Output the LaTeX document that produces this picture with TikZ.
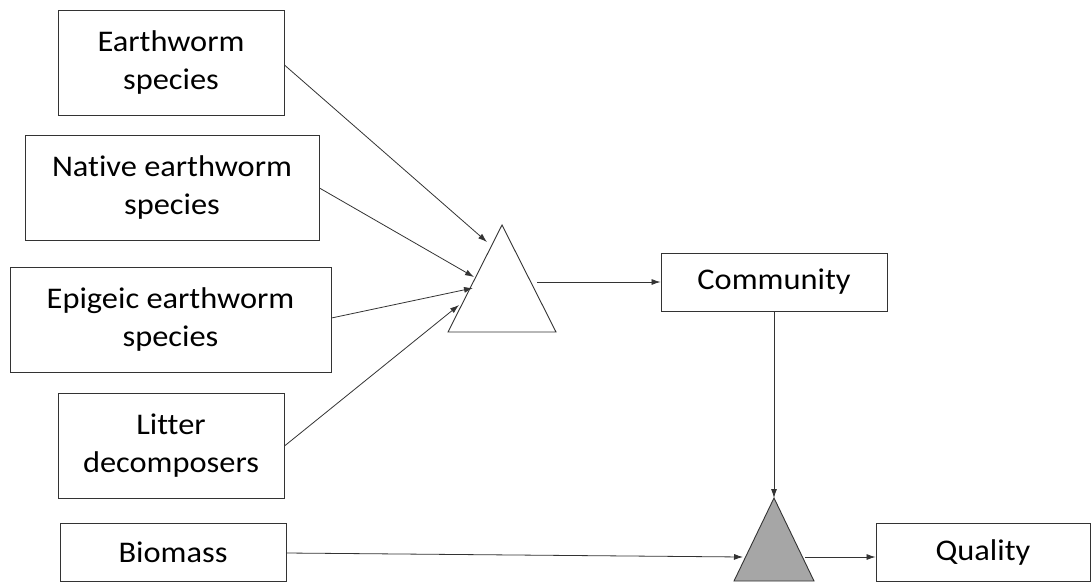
\documentclass[tikz,border=0pt]{standalone}
\usepackage{fontspec}
\setmainfont{Carlito}[FakeStretch=1.08, Ligatures=NoCommon]
\usetikzlibrary{arrows.meta}
\begin{document}
\begin{tikzpicture}[x=1pt,y=-1pt,
  box/.style={draw=black!80, line width=0.9pt, fill=white, align=center, inner sep=0pt,
    font=\fontsize{30}{38}\selectfont, text=black},
  conn/.style={draw=black!80, line width=0.8pt, -{Latex[length=9pt,width=6pt]}},
  tri/.style={draw=black!80, line width=0.9pt}]
\useasboundingbox (0,0) rectangle (1092,582);
\node[box, minimum width=226pt, minimum height=105pt] (ew) at (171,62.5) {Earthworm\\species};
\node[box, minimum width=294pt, minimum height=105pt] (nat) at (172,187.5) {Native earthworm\\species};
\node[box, minimum width=321pt, minimum height=105pt] (epi) at (170.5,319.5) {Epigeic earthworm\\species};
\node[box, minimum width=226pt, minimum height=105pt] (lit) at (171,445.5) {Litter\\decomposers};
\node[box, minimum width=226pt, minimum height=58pt] (bio) at (173,552) {Biomass};
\node[box, minimum width=226pt, minimum height=58pt] (com) at (774,282) {Community};
\node[box, minimum width=214pt, minimum height=58pt] (qual) at (983,552) {Quality};
% white triangle
\coordinate (t1a) at (502,225);
\coordinate (t1l) at (448,332);
\coordinate (t1r) at (556,332);
\draw[tri, fill=white] (t1a) -- (t1l) -- (t1r) -- cycle;
% grey triangle
\coordinate (t2a) at (774,498);
\coordinate (t2l) at (734,581);
\coordinate (t2r) at (814,581);
\draw[tri, fill=black!35] (t2a) -- (t2l) -- (t2r) -- cycle;
% arrow targets / sources
\coordinate (in1) at (487,242);
\coordinate (in2) at (474,277);
\coordinate (in3) at (473,288);
\coordinate (in4) at (459,305);
\coordinate (t1o) at (537,282);
\coordinate (t2in) at (743,557);
\coordinate (t2o) at (805,557);
\draw[conn] (ew.east |- 0,65) -- (in1);
\draw[conn] (nat.east |- 0,188) -- (in2);
\draw[conn] (epi.east |- 0,318) -- (in3);
\draw[conn] (lit.east |- 0,446) -- (in4);
\draw[conn] (t1o) -- (com.west |- t1o);
\draw[conn] (com.south) -- (t2a);
\draw[conn] (bio.east |- 0,553) -- (t2in);
\draw[conn] (t2o) -- (qual.west |- t2o);
\end{tikzpicture}
\end{document}
